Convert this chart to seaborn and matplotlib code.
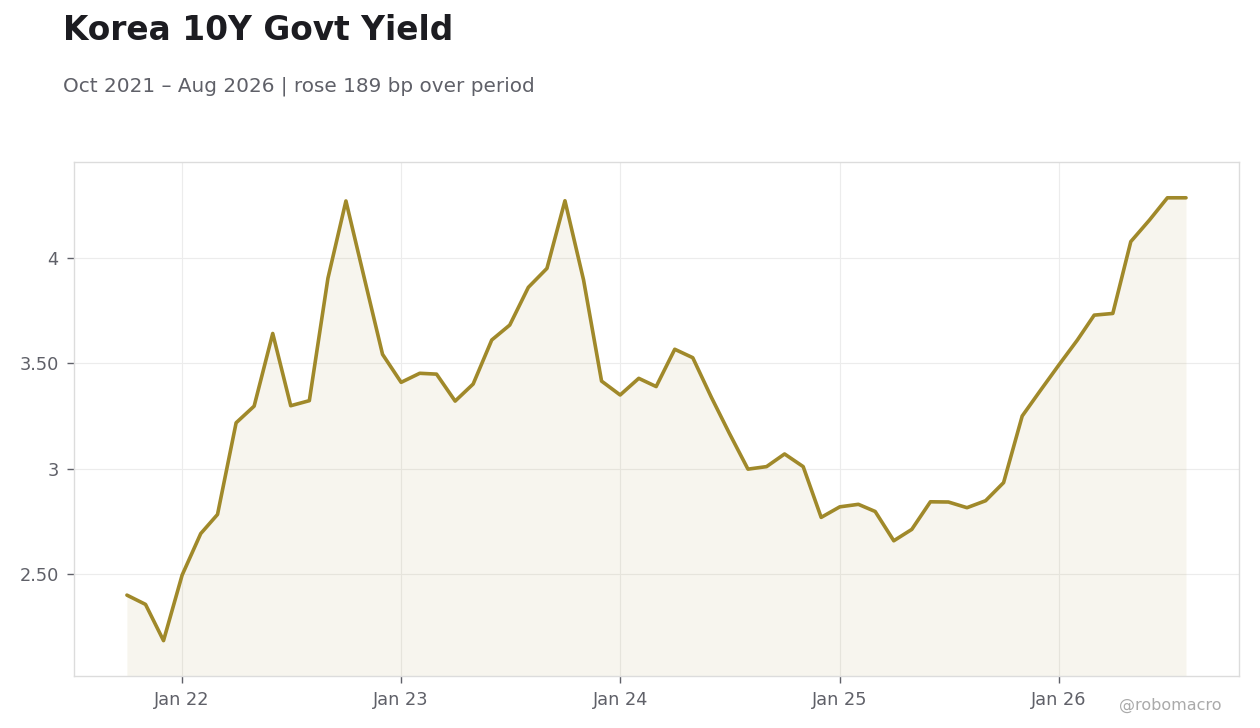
import matplotlib
matplotlib.use("Agg")
import matplotlib.pyplot as plt
import matplotlib.dates as mdates
import seaborn as sns
import pandas as pd
import numpy as np

# ---- data ----
months = pd.date_range("2021-10-01", "2026-08-01", freq="MS")
yields = [
    2.40, 2.356, 2.184,                                                        # 2021 Oct-Dec
    2.495, 2.692, 2.783, 3.218, 3.297, 3.642, 3.299, 3.323, 3.904, 4.271, 3.90, 3.543,  # 2022
    3.410, 3.453, 3.449, 3.321, 3.402, 3.611, 3.682, 3.861, 3.951, 4.272, 3.896, 3.416,  # 2023
    3.350, 3.429, 3.390, 3.567, 3.527, 3.339, 3.168, 2.998, 3.010, 3.070, 3.010, 2.769,  # 2024
    2.819, 2.831, 2.797, 2.658, 2.712, 2.843, 2.842, 2.815, 2.848, 2.934, 3.250, 3.370,  # 2025
    3.492, 3.611, 3.729, 3.737, 4.078, 4.180, 4.286, 4.286,                              # 2026
]
ytick_vals = [2.5, 3.0, 3.5, 4.0]
ytick_labels = ["2.50", "3", "3.50", "4"]
xtick_dates = pd.to_datetime(["2022-01-01", "2023-01-01", "2024-01-01", "2025-01-01", "2026-01-01"])
xtick_labels = ["Jan 22", "Jan 23", "Jan 24", "Jan 25", "Jan 26"]

title = "Korea 10Y Govt Yield"
subtitle = "Oct 2021 – Aug 2026 | rose 189 bp over period"
credit = "@robomacro"

df = pd.DataFrame({"date": months, "yield": yields})

# ---- style ----
sns.set_theme(style="white")
plt.rcParams["font.family"] = ["DejaVu Sans"]

line_color = "#a0892a"
text_gray = "#5f6068"
grid_color = "#ececec"
spine_color = "#dcdcdc"

fig = plt.figure(figsize=(12.6, 7.28), dpi=100)
ax = fig.add_axes([0.0587, 0.0714, 0.9246, 0.7061])

ylo, yhi = 2.016, 4.456
sns.lineplot(data=df, x="date", y="yield", ax=ax, color=line_color, linewidth=2.6)
ax.fill_between(df["date"], df["yield"], ylo, color=line_color, alpha=0.08, linewidth=0)

ax.set_ylim(ylo, yhi)
ax.margins(x=0.05)
ax.set_xlabel("")
ax.set_ylabel("")

ax.set_yticks(ytick_vals)
ax.set_yticklabels(ytick_labels)
ax.set_xticks(xtick_dates)
ax.set_xticklabels(xtick_labels)

ax.grid(True, color=grid_color, linewidth=0.8)
ax.set_axisbelow(True)
for s in ax.spines.values():
    s.set_visible(True)
    s.set_color(spine_color)
    s.set_linewidth(1.0)

ax.tick_params(axis="both", which="major", length=5, width=1, color=text_gray,
               labelcolor=text_gray, labelsize=12.8, direction="out", pad=6)
ax.tick_params(axis="x", bottom=True)
ax.tick_params(axis="y", left=True)

fig.text(63/1260, 1 - 30/728, title, fontsize=23.7, fontweight="bold", color="#1c1c21",
         ha="left", va="center")
fig.text(63/1260, 1 - 86/728, subtitle, fontsize=14.4, color=text_gray,
         ha="left", va="center")
fig.text(1222/1260, 1 - 705/728, credit, fontsize=11.5, color="#aaaaaa",
         ha="right", va="center")

fig.savefig("out.png", dpi=100)
